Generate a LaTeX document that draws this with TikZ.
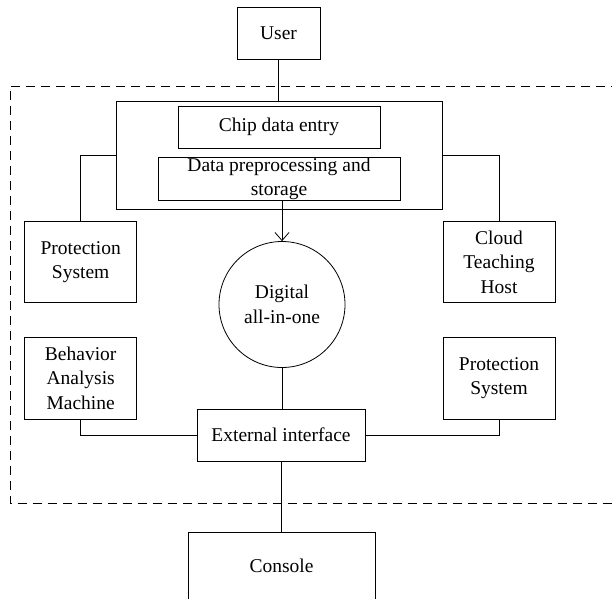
\documentclass[tikz,border=0pt]{standalone}
\usepackage{fontspec}
\setmainfont{Liberation Serif}
\usetikzlibrary{arrows.meta}

\begin{document}
\begin{tikzpicture}[x=1pt, y=-1pt,
  every node/.style={font=\fontsize{19.5}{24.5}\selectfont, align=center, inner sep=0pt},
  box/.style={draw, line width=0.8pt},
  link/.style={line width=0.8pt},
  frame/.style={line width=0.8pt, dash pattern=on 9pt off 6pt}]

\useasboundingbox (0,0) rectangle (612,598);

% dashed system frame (right side runs past the page)
\draw[frame] (620,86) -- (10,86) -- (10,503.5) -- (620,503.5);

% top row
\node[box, minimum width=83, minimum height=52] (user) at (278.5,33) {User};
\node[box, minimum width=326, minimum height=108] (group) at (279,155) {};
\node[box, minimum width=202, minimum height=42] (entry) at (279,127) {Chip data entry};
\node[box, minimum width=242, minimum height=42] (prep) at (279,179) {Data preprocessing and\\storage};

% side boxes
\node[box, minimum width=112, minimum height=81] (protl) at (80.7,262.2) {Protection\\System};
\node[box, minimum width=112, minimum height=81] (cloud) at (499,262.2) {Cloud\\Teaching\\Host};
\node[box, minimum width=112, minimum height=82] (behav) at (80.7,378) {Behavior\\Analysis\\Machine};
\node[box, minimum width=112, minimum height=82] (protr) at (499,378) {Protection\\System};

% centre column
\node[box, circle, minimum size=126] (core) at (282,304.5) {Digital\\all-in-one};
\node[box, minimum width=168, minimum height=52] (ext) at (281,435) {External interface};
% the console box runs past the lower edge of the page
\node[box, minimum width=187, minimum height=90] (console) at (281.5,577.7) {};
\node (consolelabel) at (281.5,565.7) {Console};

% connectors
\draw[link] (user.south) -- (user.south |- group.north);
\draw[link] (group.west) -| (protl.north);
\draw[link] (group.east) -| (cloud.north);
\draw[link, -{Straight Barb[length=8pt, width=14pt]}] (prep.south -| core.north) -- (core.north);
\draw[link] (core.south) -- (core.south |- ext.north);
\draw[link] (behav.south) |- (ext.west);
\draw[link] (protr.south) |- (ext.east);
\draw[link] (ext.south) -- (ext.south |- console.north);

\end{tikzpicture}
\end{document}
